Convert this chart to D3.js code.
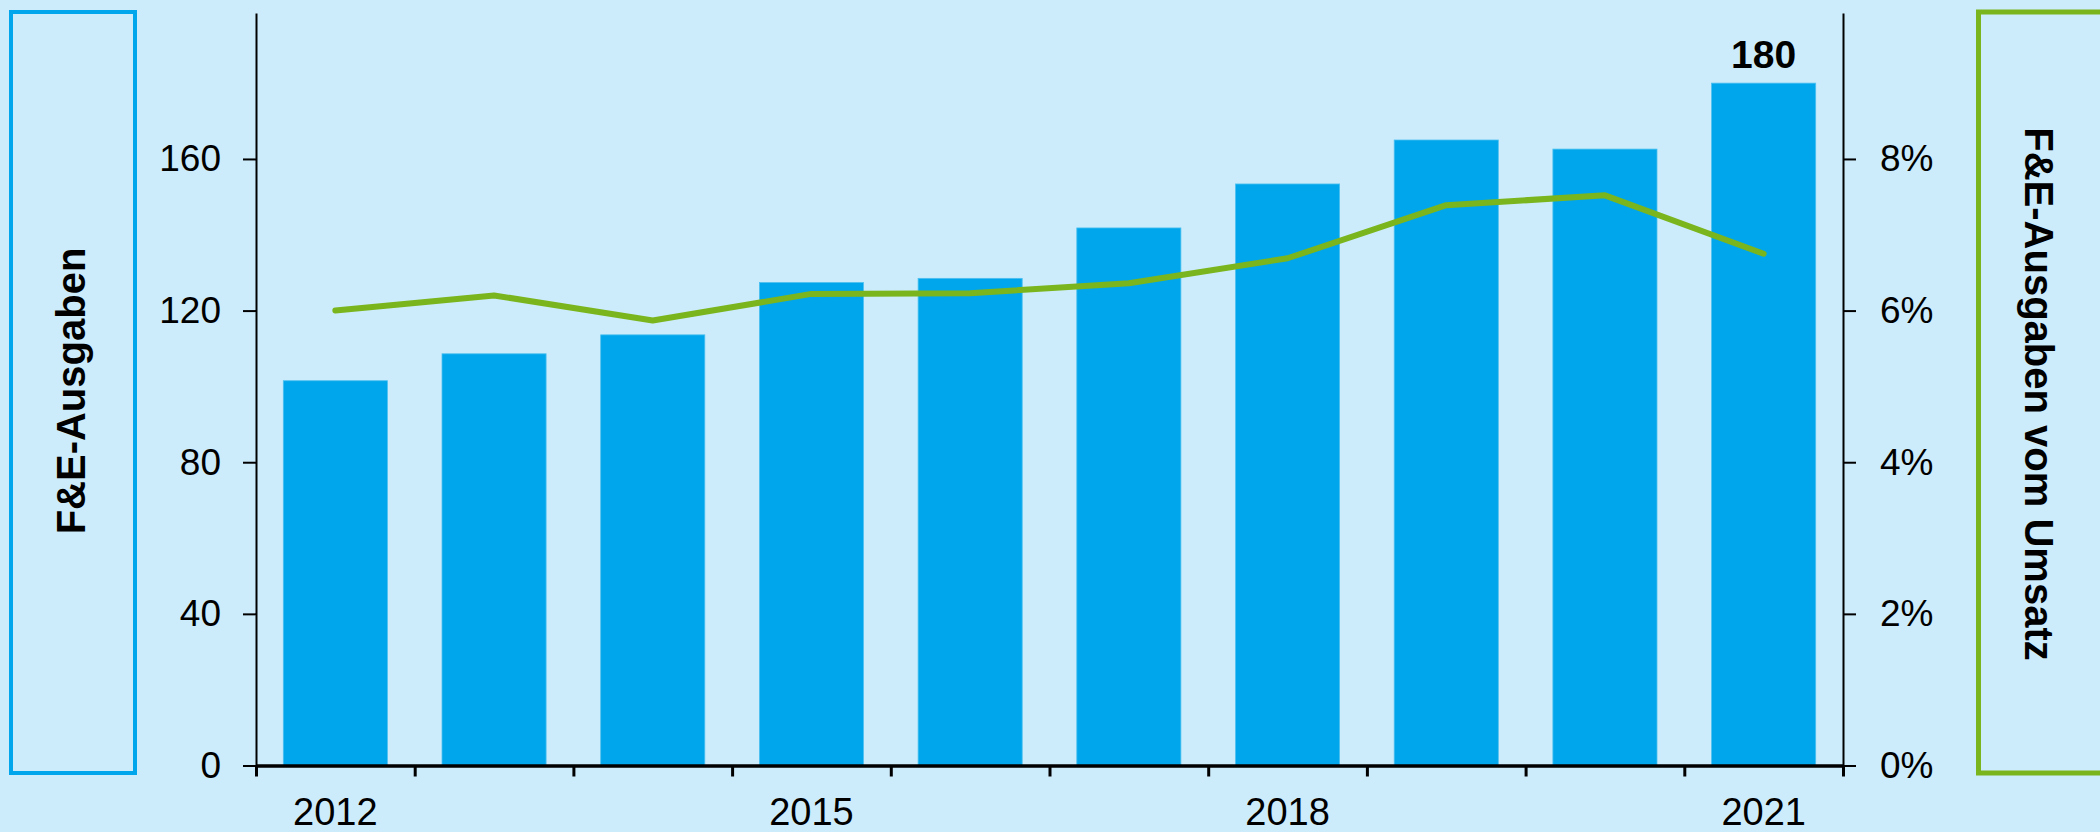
<!DOCTYPE html>
<html>
<head>
<meta charset="utf-8">
<script src="https://cdn.jsdelivr.net/npm/d3@7"></script>
<style>
  html, body { margin: 0; padding: 0; background: #cdecfb; }
  svg { display: block; }
  text { font-family: "Liberation Sans", Arial, sans-serif; fill: #000; }
</style>
</head>
<body>
<svg id="chart" width="2100" height="832"></svg>
<script>
// data
const years = ['2012', '2013', '2014', '2015', '2016', '2017', '2018', '2019', '2020', '2021'];
const spending = [101.5, 108.6, 113.6, 127.4, 128.5, 141.8, 153.4, 165.0, 162.6, 180];
const shareOfSales = [6.00, 6.20, 5.87, 6.22, 6.23, 6.36, 6.69, 7.39, 7.52, 6.75];
const leftTicks = [0, 40, 80, 120, 160];
const rightTicks = [0, 2, 4, 6, 8];
const shownYears = ['2012', '2015', '2018', '2021'];
const labeledYear = '2021';

const barColor = '#00a6eb';
const lineColor = '#7ab51d';

const svg = d3.select('#chart');

const left = 256, right = 1843, zeroY = 765.5, topY = 13;

const x = d3.scaleBand()
    .domain(years)
    .range([left, right])
    .paddingInner(0.344)
    .paddingOuter(0.172);

const y = d3.scaleLinear().domain([0, 198.5]).range([zeroY, topY]);
const yR = d3.scaleLinear().domain([0, 9.925]).range([zeroY, topY]);

// frames around the axis titles
svg.append('rect')
    .attr('x', 11).attr('y', 12).attr('width', 124).attr('height', 761)
    .attr('fill', 'none').attr('stroke', barColor).attr('stroke-width', 4);
svg.append('rect')
    .attr('x', 1978.5).attr('y', 12).attr('width', 200).attr('height', 761)
    .attr('fill', 'none').attr('stroke', lineColor).attr('stroke-width', 5);

svg.append('text')
    .attr('transform', 'translate(85,391) rotate(-90)')
    .attr('text-anchor', 'middle')
    .attr('font-size', 40).attr('font-weight', 'bold')
    .text('F&E-Ausgaben');

svg.append('text')
    .attr('transform', 'translate(2025,394) rotate(90)')
    .attr('text-anchor', 'middle')
    .attr('font-size', 40).attr('font-weight', 'bold')
    .text('F&E-Ausgaben vom Umsatz');

// bars
svg.append('g')
    .selectAll('rect')
    .data(years)
    .enter().append('rect')
    .attr('x', d => x(d))
    .attr('width', x.bandwidth())
    .attr('y', (d, i) => y(spending[i]))
    .attr('height', (d, i) => zeroY - y(spending[i]))
    .attr('fill', barColor)
    .attr('stroke', '#4cc0f0')
    .attr('stroke-width', 0.8);

// value label on last bar
const li = years.indexOf(labeledYear);
svg.append('text')
    .attr('x', x(labeledYear) + x.bandwidth() / 2)
    .attr('y', y(spending[li]) - 15)
    .attr('text-anchor', 'middle')
    .attr('font-size', 39).attr('font-weight', 'bold')
    .text(spending[li]);

// share line
const line = d3.line()
    .x((d, i) => x(years[i]) + x.bandwidth() / 2)
    .y(d => yR(d));

svg.append('path')
    .datum(shareOfSales)
    .attr('d', line)
    .attr('fill', 'none')
    .attr('stroke', lineColor)
    .attr('stroke-width', 6)
    .attr('stroke-linecap', 'round')
    .attr('stroke-linejoin', 'round');

// left axis
const gL = svg.append('g')
    .attr('transform', `translate(${left},0)`)
    .call(d3.axisLeft(y).tickValues(leftTicks).tickSize(13).tickSizeOuter(0).tickPadding(22));
gL.select('.domain').attr('stroke-width', 2);
gL.selectAll('.tick line').attr('stroke-width', 2);
gL.selectAll('.tick text').attr('font-size', 37).style('font-family', '"Liberation Sans", Arial, sans-serif');

// right axis
const gR = svg.append('g')
    .attr('transform', `translate(${right},0)`)
    .call(d3.axisRight(yR).tickValues(rightTicks).tickFormat(d => d + '%').tickSize(13).tickSizeOuter(0).tickPadding(24));
gR.select('.domain').attr('stroke-width', 2);
gR.selectAll('.tick line').attr('stroke-width', 2);
gR.selectAll('.tick text').attr('font-size', 37).style('font-family', '"Liberation Sans", Arial, sans-serif');

// bottom axis: ticks on band boundaries
const xEdge = d3.scaleLinear().domain([0, years.length]).range([left, right]);
const gB = svg.append('g')
    .attr('transform', `translate(0,${zeroY})`)
    .call(d3.axisBottom(xEdge).tickValues(d3.range(years.length + 1)).tickFormat('').tickSize(11).tickSizeOuter(0));
gB.select('.domain').attr('stroke-width', 3.5);
gB.selectAll('.tick line').attr('stroke-width', 3);

// year labels centred under their bars
const gY = svg.append('g')
    .attr('transform', `translate(0,${zeroY})`)
    .call(d3.axisBottom(x).tickSize(0).tickPadding(33).tickFormat(d => shownYears.includes(d) ? d : ''));
gY.select('.domain').remove();
gY.selectAll('.tick text').attr('font-size', 38).style('font-family', '"Liberation Sans", Arial, sans-serif');
</script>
</body>
</html>
